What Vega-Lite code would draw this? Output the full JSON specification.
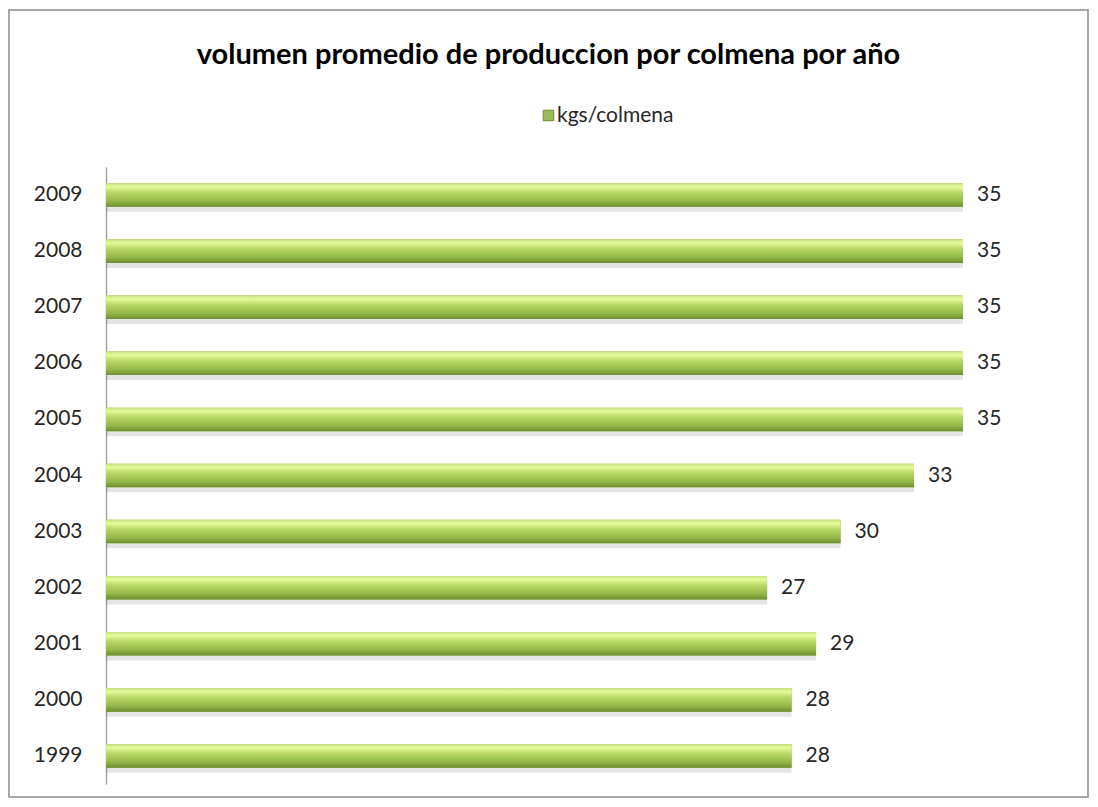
{
  "$schema": "https://vega.github.io/schema/vega-lite/v6.json",
  "width": 1079,
  "height": 787,
  "autosize": {"type": "none"},
  "padding": {"left": 9, "top": 10, "right": 10, "bottom": 10},
  "background": "white",
  "config": {
    "font": "Lato",
    "view": {"stroke": "#8c8c8c", "strokeWidth": 1.5}
  },
  "title": {
    "text": "volumen promedio de produccion por colmena por año",
    "fontSize": 29,
    "fontWeight": "bold",
    "color": "#000000",
    "anchor": "middle",
    "baseline": "alphabetic",
    "offset": -83
  },
  "data": {
    "values": [
      {"year": "2009", "kgs": 35},
      {"year": "2008", "kgs": 35},
      {"year": "2007", "kgs": 35},
      {"year": "2006", "kgs": 35},
      {"year": "2005", "kgs": 35},
      {"year": "2004", "kgs": 33},
      {"year": "2003", "kgs": 30},
      {"year": "2002", "kgs": 27},
      {"year": "2001", "kgs": 29},
      {"year": "2000", "kgs": 28},
      {"year": "1999", "kgs": 28}
    ]
  },
  "encoding": {
    "y": {
      "field": "year",
      "type": "nominal",
      "sort": "descending",
      "scale": {"range": [157, 774], "paddingInner": 0.58, "paddingOuter": 0.29},
      "axis": {
        "title": null,
        "offset": -97,
        "ticks": false,
        "labelFontSize": 21,
        "labelColor": "#262626",
        "labelPadding": 24,
        "domainColor": "#a6a6a6",
        "domainWidth": 1.5
      }
    },
    "x": {
      "field": "kgs",
      "type": "quantitative",
      "scale": {"domain": [0, 35], "range": [97, 954], "nice": false, "zero": true},
      "axis": null
    }
  },
  "layer": [
    {
      "mark": {"type": "bar", "yOffset": 5, "color": "#000000", "opacity": 0.1}
    },
    {
      "mark": {"type": "bar"},
      "encoding": {
        "color": {
          "datum": "kgs/colmena",
          "type": "nominal",
          "scale": {"range": ["#9bbb59"]},
          "legend": {
            "title": null,
            "orient": "none",
            "legendX": 529,
            "legendY": 95,
            "symbolType": "square",
            "symbolSize": 110,
            "symbolStrokeColor": "#6f8a30",
            "symbolStrokeWidth": 1,
            "labelFontSize": 21,
            "labelColor": "#262626",
            "labelOffset": -2
          }
        }
      }
    },
    {
      "mark": {
        "type": "bar",
        "fill": {
          "gradient": "linear",
          "x1": 0, "y1": 0, "x2": 0, "y2": 1,
          "stops": [
            {"offset": 0, "color": "#c9e27f"},
            {"offset": 0.15, "color": "#e6f99a"},
            {"offset": 0.4, "color": "#b9d767"},
            {"offset": 0.75, "color": "#95b84c"},
            {"offset": 1, "color": "#6f8d30"}
          ]
        }
      }
    },
    {
      "mark": {"type": "text", "align": "left", "dx": 14, "fontSize": 21, "color": "#262626", "baseline": "middle"},
      "encoding": {"text": {"field": "kgs", "type": "quantitative"}}
    }
  ]
}
